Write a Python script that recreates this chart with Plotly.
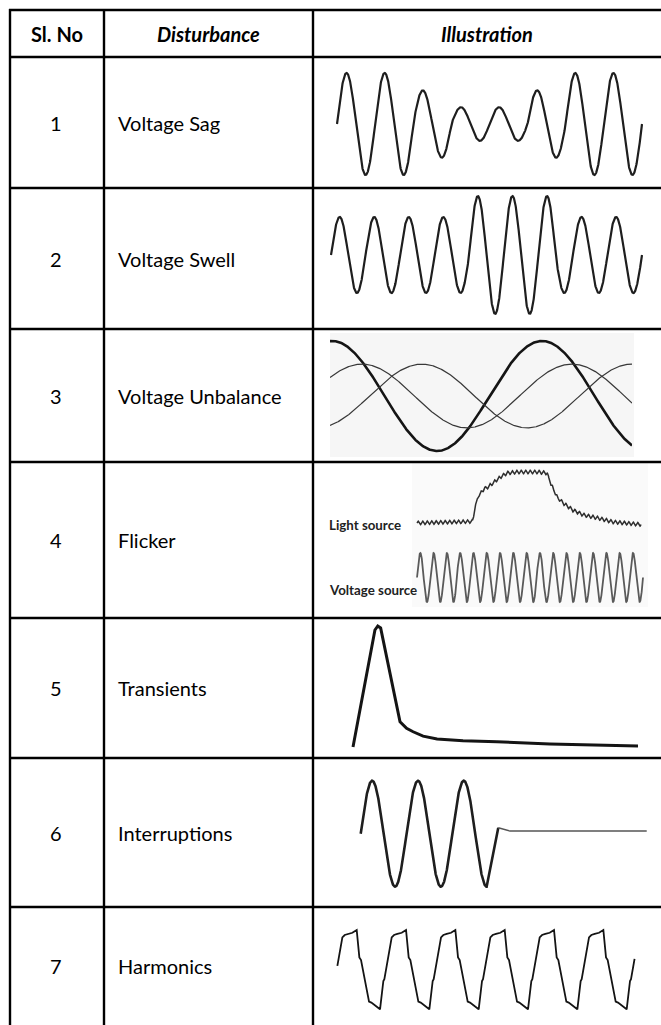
import numpy as np
import plotly.graph_objects as go

W, H = 661, 1025

# ---------------- table content ----------------
headers = ["Sl. No", "Disturbance", "Illustration"]
sl_no = ["1", "2", "3", "4", "5", "6", "7"]
disturbances = ["Voltage Sag", "Voltage Swell", "Voltage Unbalance", "Flicker",
                "Transients", "Interruptions", "Harmonics"]

# ---------------- waveform data ----------------
# Voltage sag: amplitude (p.u.) of each of 8 cycles
sag_cycle_amp = [1.0, 1.0, 0.66, 0.33, 0.33, 0.66, 1.0, 1.0]
# Voltage swell: amplitude (p.u.) of each half cycle (9 cycles)
swell_half_amp = [1, 1, 1, 1, 1, 1, 1, 1, 1.55, 1.55, 1.55, 1.55, 1.55, 1, 1, 1, 1, 1]
# Voltage unbalance: amplitude and phase of peak (fraction of cycle) of three phases
unbal_amp = [1.0, 0.58, 0.58]
unbal_peak = [0.01, 0.152, 0.438]
unbal_width = [2.6, 1.2, 1.2]
# Flicker: light source envelope (time 0..1, level 0..1)
light_t = [0.0, 0.248, 0.259, 0.272, 0.295, 0.317, 0.371, 0.402, 0.446, 0.536, 0.580,
           0.594, 0.625, 0.652, 0.696, 0.741, 0.804, 0.875, 1.0]
light_lvl = [0.0, 0.03, 0.30, 0.51, 0.65, 0.71, 0.90, 0.98, 1.0, 1.0, 0.98,
             0.80, 0.51, 0.39, 0.25, 0.16, 0.10, 0.02, -0.03]
light_ripple = 0.035
voltage_src_cycles = 17
# Transient: time (a.u.) and value (p.u.)
trans_t = [0, 7.7, 8.7, 9.7, 16.5, 18.8, 21.1, 24.6, 29.5, 38.6, 50.5, 69.1, 100]
trans_v = [0, 0.967, 1.0, 0.984, 0.209, 0.154, 0.126, 0.09, 0.066, 0.052, 0.044, 0.025, 0.008]
# Interruption: sine for 2.75 cycles then these points (cycles, p.u.)
interr_cycles = 2.75
interr_tail_t = [3.004, 3.26, 6.245]
interr_tail_v = [0.113, 0.05, 0.05]
# Harmonics: one-period template (phase in 1/148 of a period, p.u.)
harm_phase = [0, 10, 13, 35, 42, 52, 65, 78, 86, 91, 115, 122, 130, 148]
harm_val = [-1, -0.286, -0.24, 0.815, 0.874, 0.9, 0.93, 1.0, 0.31, 0.244, -0.807, -0.83, -0.88, -1]
harm_start, harm_end = 0.135, 6.16

fig = go.Figure()
axis_count = [0]


def add_axes(px0, px1, xr, py_top, py_bot, yr, xpad=6, ypad=6):
    """Axis pair whose value range xr/yr lands on the given pixel box."""
    axis_count[0] += 1
    i = axis_count[0]
    sx = (xr[1] - xr[0]) / (px1 - px0)
    sy = (yr[1] - yr[0]) / (py_bot - py_top)
    xdom = [(px0 - xpad) / W, (px1 + xpad) / W]
    xrange = [xr[0] - xpad * sx, xr[1] + xpad * sx]
    ydom = [1 - (py_bot + ypad) / H, 1 - (py_top - ypad) / H]
    yrange = [yr[0] - ypad * sy, yr[1] + ypad * sy]
    xa = "xaxis" if i == 1 else f"xaxis{i}"
    ya = "yaxis" if i == 1 else f"yaxis{i}"
    common = dict(visible=False, showgrid=False, zeroline=False, fixedrange=True)
    fig.update_layout(**{
        xa: dict(domain=xdom, range=xrange, anchor=f"y{i}" if i > 1 else "y", **common),
        ya: dict(domain=ydom, range=yrange, anchor=f"x{i}" if i > 1 else "x", **common),
    })
    return ("x" if i == 1 else f"x{i}"), ("y" if i == 1 else f"y{i}")


def line(xa, ya, x, y, color="#1a1a1a", width=2.0):
    fig.add_trace(go.Scatter(x=x, y=y, mode="lines", xaxis=xa, yaxis=ya,
                             line=dict(color=color, width=width, shape="linear"),
                             hoverinfo="skip", showlegend=False))


# 1. Sag
xa, ya = add_axes(337, 642, [0, len(sag_cycle_amp)], 73, 175, [-1, 1])
t = np.linspace(0, len(sag_cycle_amp), 1600)
amp = np.array(sag_cycle_amp)[np.clip(np.floor(t).astype(int), 0, len(sag_cycle_amp) - 1)]
line(xa, ya, t, amp * np.sin(2 * np.pi * t), "#1e1e1e", 2.2)

# 2. Swell
n_cyc = len(swell_half_amp) / 2
xa, ya = add_axes(331, 642, [0, n_cyc], 217, 293, [-1, 1], ypad=28)
t = np.linspace(0, n_cyc, 1800)
amp = np.array(swell_half_amp)[np.clip(np.floor(t * 2).astype(int), 0, len(swell_half_amp) - 1)]
line(xa, ya, t, amp * np.sin(2 * np.pi * t), "#1e1e1e", 2.2)

# 3. Unbalance
fig.add_shape(type="rect", xref="paper", yref="paper", x0=330 / W, x1=634 / W,
              y0=1 - 457 / H, y1=1 - 333 / H, fillcolor="#f6f6f6", line_width=0, layer="below")
tmax = (632 - 330) / 210
xa, ya = add_axes(330, 632, [0, tmax], 341, 451, [-1, 1], xpad=0, ypad=6)
t = np.linspace(0, tmax, 800)
for a, p, w in zip(unbal_amp, unbal_peak, unbal_width):
    line(xa, ya, t, a * np.cos(2 * np.pi * (t - p)), "#151515" if w > 2 else "#383838", w)

# 4. Flicker
fig.add_shape(type="rect", xref="paper", yref="paper", x0=412 / W, x1=648 / W,
              y0=1 - 607 / H, y1=1 - 462 / H, fillcolor="#fafafa", line_width=0, layer="below")
xa, ya = add_axes(417, 641, [0, 1], 472, 523, [0, 1])
t = np.linspace(0, 1, 1200)
env = np.interp(t, light_t, light_lvl)
line(xa, ya, t, env + light_ripple * np.sin(2 * np.pi * t * 50), "#2e2e2e", 1.5)
xa, ya = add_axes(417, 643, [0, voltage_src_cycles], 553, 602, [-1, 1])
t = np.linspace(0, voltage_src_cycles, 1500)
line(xa, ya, t, np.sin(2 * np.pi * t), "#5a5a5a", 1.8)

# 5. Transients
xa, ya = add_axes(353, 638, [0, 100], 626, 747, [0, 1])
line(xa, ya, trans_t, trans_v, "#141414", 3.0)

# 6. Interruptions
end_px = 360.7 + interr_tail_t[-1] * 45.8
xa, ya = add_axes(360.7, end_px, [0, interr_tail_t[-1]], 780.7, 886.7, [-1, 1])
t = np.linspace(0, interr_cycles, 600)
line(xa, ya, list(t) + interr_tail_t[:1], list(np.sin(2 * np.pi * t)) + interr_tail_v[:1],
     "#1e1e1e", 2.6)
line(xa, ya, interr_tail_t, interr_tail_v, "#555555", 1.4)

# 7. Harmonics
ph = np.array(harm_phase) / 148.0
xs, ys = [], []
for k in range(-1, 8):
    for p, v in zip(ph, harm_val):
        tt = k + p
        if harm_start < tt < harm_end:
            xs.append(tt)
            ys.append(v)
xs = [harm_start] + xs + [harm_end]
ys = ([float(np.interp(harm_start % 1, ph, harm_val))] + ys +
      [float(np.interp(harm_end % 1, ph, harm_val))])
period_px = 49.33
xa, ya = add_axes(330.7, 330.7 + 6.2 * period_px, [0, 6.2], 930, 1009.3, [-1, 1], ypad=5)
line(xa, ya, xs, ys, "#141414", 1.8)

# ---------------- table grid ----------------
row_lines = [10, 57, 188, 329, 462, 618, 758, 907]
col_lines = [10, 104, 313]
for py in row_lines:
    fig.add_shape(type="line", xref="paper", yref="paper", x0=9 / W, x1=1.0,
                  y0=1 - py / H, y1=1 - py / H, line=dict(color="black", width=2.4))
for px in col_lines:
    fig.add_shape(type="line", xref="paper", yref="paper", x0=px / W, x1=px / W,
                  y0=1 - 9 / H, y1=0, line=dict(color="black", width=2.4))

FONT = "Lato, 'Open Sans', sans-serif"
hx = [57, 208, 487]
hstyle = ["<b>{}</b>", "<b><i>{}</i></b>", "<b><i>{}</i></b>"]
for x, s, h in zip(hx, hstyle, headers):
    fig.add_annotation(x=x / W, y=1 - 34 / H, xref="paper", yref="paper", text=s.format(h),
                       showarrow=False, font=dict(family=FONT, size=20, color="black"),
                       xanchor="center", yanchor="middle")

bounds = row_lines[1:] + [1025]
for i, (n, d) in enumerate(zip(sl_no, disturbances)):
    yc = (bounds[i] + bounds[i + 1]) / 2
    fig.add_annotation(x=56 / W, y=1 - yc / H, xref="paper", yref="paper", text=n,
                       showarrow=False, font=dict(family=FONT, size=20, color="black"),
                       xanchor="center", yanchor="middle")
    fig.add_annotation(x=116 / W, y=1 - yc / H, xref="paper", yref="paper", text=d,
                       showarrow=False, font=dict(family=FONT, size=20, color="black"),
                       xanchor="left", yanchor="middle")

# flicker labels
for lbl, py in [("Light source", 525), ("Voltage source", 590)]:
    fig.add_annotation(x=327 / W, y=1 - py / H, xref="paper", yref="paper",
                       text="<b>" + lbl + "</b>", showarrow=False,
                       font=dict(family=FONT, size=13.3, color="#222"),
                       xanchor="left", yanchor="middle")

fig.update_layout(width=W, height=H, margin=dict(l=0, r=0, t=0, b=0),
                  paper_bgcolor="white", plot_bgcolor="rgba(0,0,0,0)", showlegend=False)
fig.write_html("out.html", config={"displayModeBar": False},
               post_script="document.body.style.margin='0';document.body.style.padding='0';"
                           "document.body.style.overflow='hidden';")
